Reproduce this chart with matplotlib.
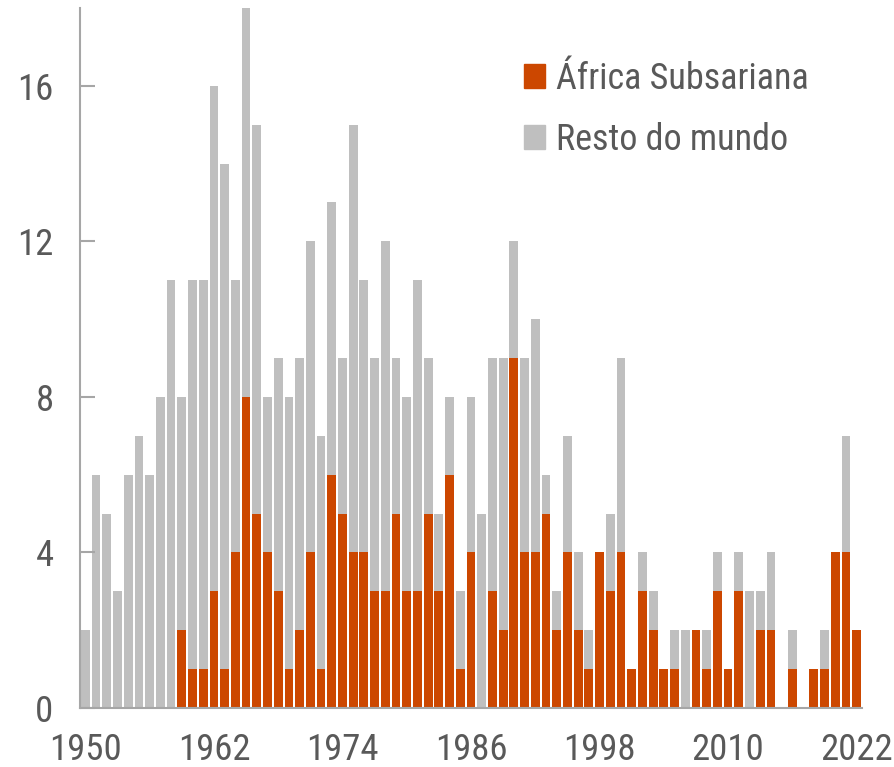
import matplotlib
matplotlib.use("Agg")
import matplotlib.pyplot as plt
from matplotlib.patches import Patch
import numpy as np

years = list(range(1950, 2023))

# total number of events per year
total = [2, 6, 5, 3, 6, 7, 6, 8, 11, 8,
         11, 11, 16, 14, 11, 18, 15, 8, 9, 8,
         9, 12, 7, 13, 9, 15, 11, 9, 12, 9,
         8, 11, 9, 5, 8, 3, 8, 5, 9, 9,
         12, 9, 10, 6, 3, 7, 4, 2, 4, 5,
         9, 1, 4, 3, 1, 2, 2, 2, 2, 4,
         1, 4, 3, 3, 4, 0, 2, 0, 1, 2,
         4, 7, 2]

# Africa Subsariana share
africa = [0, 0, 0, 0, 0, 0, 0, 0, 0, 2,
          1, 1, 3, 1, 4, 8, 5, 4, 3, 1,
          2, 4, 1, 6, 5, 4, 4, 3, 3, 5,
          3, 3, 5, 3, 6, 1, 4, 0, 3, 2,
          9, 4, 4, 5, 2, 4, 2, 1, 4, 3,
          4, 1, 3, 2, 1, 1, 0, 2, 1, 3,
          1, 3, 0, 2, 2, 0, 1, 0, 1, 1,
          4, 4, 2]

rest = [t - a for t, a in zip(total, africa)]

labels = ["África Subsariana", "Resto do mundo"]
xticks = [1950, 1962, 1974, 1986, 1998, 2010, 2022]
yticks = [0, 4, 8, 12, 16]

orange = "#CC4700"
grey = "#BFBFBF"
txt = "#595959"

plt.rcParams['font.family'] = ['Roboto Condensed', 'DejaVu Sans']

fig = plt.figure(figsize=(8.94, 7.67), dpi=100)
ax = fig.add_axes([0.0895, 0.0769, 0.8747, 0.9126])

ax.bar(years, africa, width=0.82, color=orange, edgecolor="none")
ax.bar(years, rest, width=0.82, bottom=africa, color=grey, edgecolor="none")

ax.set_xlim(1949.5, 2022.5)
ax.set_ylim(0, 18)
ax.set_xticks(xticks)
ax.set_yticks(yticks)

for s in ["top", "right"]:
    ax.spines[s].set_visible(False)
for s in ["left", "bottom"]:
    ax.spines[s].set_color("#A6A6A6")
    ax.spines[s].set_linewidth(1.5)

ax.tick_params(axis="y", direction="in", length=11, width=1.5, color="#A6A6A6",
               labelsize=26.5, labelcolor=txt, pad=19)
ax.tick_params(axis="x", length=0, labelsize=26.5, labelcolor=txt, pad=17)

handles = [Patch(color=orange), Patch(color=grey)]
ax.legend(handles, labels, loc="upper left", bbox_to_anchor=(0.549, 0.945),
          frameon=False, fontsize=26, labelcolor=txt,
          handlelength=0.6, handleheight=0.65, handletextpad=0.3,
          labelspacing=0.68, borderaxespad=0)

fig.savefig("out.png", dpi=100)
